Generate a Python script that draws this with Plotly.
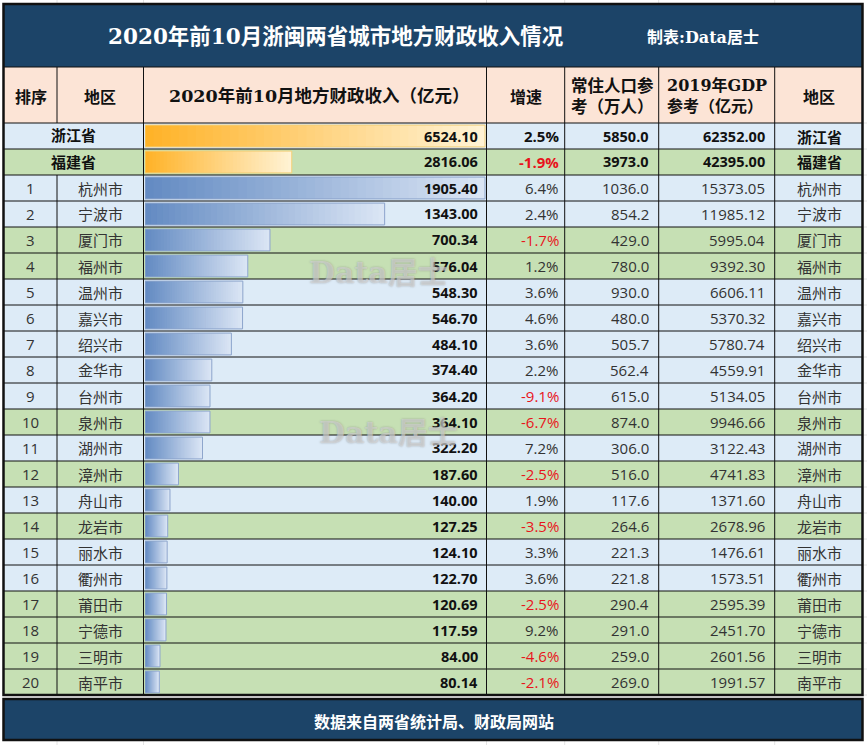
import plotly.graph_objects as go

W, H = 867, 745

# ---------- data ----------
province_names = ["浙江省", "福建省"]
province_income = [6524.10, 2816.06]
province_growth = [2.5, -1.9]
province_pop = [5850.0, 3973.0]
province_gdp = [62352.00, 42395.00]

city_names = ["杭州市", "宁波市", "厦门市", "福州市", "温州市", "嘉兴市", "绍兴市", "金华市", "台州市", "泉州市",
              "湖州市", "漳州市", "舟山市", "龙岩市", "丽水市", "衢州市", "莆田市", "宁德市", "三明市", "南平市"]
city_income = [1905.40, 1343.00, 700.34, 576.04, 548.30, 546.70, 484.10, 374.40, 364.20, 364.10,
               322.20, 187.60, 140.00, 127.25, 124.10, 122.70, 120.69, 117.59, 84.00, 80.14]
city_growth = [6.4, 2.4, -1.7, 1.2, 3.6, 4.6, 3.6, 2.2, -9.1, -6.7,
               7.2, -2.5, 1.9, -3.5, 3.3, 3.6, -2.5, 9.2, -4.6, -2.1]
city_pop = [1036.0, 854.2, 429.0, 780.0, 930.0, 480.0, 505.7, 562.4, 615.0, 874.0,
            306.0, 516.0, 117.6, 264.6, 221.3, 221.8, 290.4, 291.0, 259.0, 269.0]
city_gdp = [15373.05, 11985.12, 5995.04, 9392.30, 6606.11, 5370.32, 5780.74, 4559.91, 5134.05, 9946.66,
            3122.43, 4741.83, 1371.60, 2678.96, 1476.61, 1573.51, 2595.39, 2451.70, 2601.56, 1991.57]
fujian_cities = ["厦门市", "福州市", "泉州市", "漳州市", "龙岩市", "莆田市", "宁德市", "三明市", "南平市"]

title_text = "2020年前10月浙闽两省城市地方财政收入情况"
maker_text = "制表:Data居士"
footer_text = "数据来自两省统计局、财政局网站"
watermark_text = "Data居士"

# ---------- layout constants (pixels in the page) ----------
col_x = [3.5, 57, 143.5, 486.5, 564.7, 658.7, 774.7, 862.5]
row_top, row_h = 123, 26
title_top, head_top, table_bot = 5, 67, 695
foot_top, foot_bot = 699, 740

NAVY = "#1C4468"
HEAD = "#FCE4D6"
BLUE = "#DDEBF7"
GREEN = "#C6E0B4"
SERIF = "'DejaVu Serif','Noto Sans CJK SC',serif"
CJK = "'Noto Sans CJK SC',sans-serif"
NUM = "'Open Sans','Noto Sans CJK SC',sans-serif"


def px(x):
    return x / W


def py(y):
    return 1 - y / H


def rect(x0, y0, x1, y1, fill, line=None, lw=1):
    return dict(type="rect", xref="paper", yref="paper", layer="below",
                x0=px(x0), x1=px(x1), y0=py(y0), y1=py(y1), fillcolor=fill,
                line=dict(color=line or "rgba(0,0,0,0)", width=lw if line else 0))


def hline(y, x0, x1, color="#111111", lw=1):
    return dict(type="line", xref="paper", yref="paper", layer="below",
                x0=px(x0), x1=px(x1), y0=py(y), y1=py(y), line=dict(color=color, width=lw))


def vline(x, y0, y1, color="#111111", lw=1):
    return dict(type="line", xref="paper", yref="paper", layer="below",
                x0=px(x), x1=px(x), y0=py(y0), y1=py(y1), line=dict(color=color, width=lw))


def label(x, y, text, size, color="#111111", family=NUM, bold=False, anchor="center", align="center", shadow=None):
    t = f"<b>{text}</b>" if bold else text
    font = dict(size=size, color=color, family=family)
    if shadow:
        font["shadow"] = shadow
    return dict(xref="paper", yref="paper", x=px(x), y=py(y), text=t, showarrow=False,
                xanchor=anchor, yanchor="middle", align=align, font=font)


row_names = province_names + city_names
n_rows = len(row_names)
row_fill = [BLUE, GREEN] + [GREEN if c in fujian_cities else BLUE for c in city_names]

shapes, annotations = [], []

# faint spreadsheet gridlines outside of the table
for x in col_x[1:-1]:
    shapes.append(vline(x, 0, 4, "#E4E4E4"))
    shapes.append(vline(x, 741, H, "#E4E4E4"))
for i in range(n_rows + 1):
    shapes.append(hline(row_top + i * row_h, 863, W, "#E4E4E4"))

# title / header / footer blocks
shapes.append(rect(col_x[0], title_top, col_x[-1], head_top, NAVY))
shapes.append(rect(col_x[0], head_top, col_x[-1], row_top, HEAD))
shapes.append(rect(col_x[0], foot_top, col_x[-1], foot_bot, NAVY))

# row backgrounds and rules
for i, fill in enumerate(row_fill):
    shapes.append(rect(col_x[0], row_top + i * row_h, col_x[-1], row_top + (i + 1) * row_h, fill))
for i in range(n_rows):
    shapes.append(hline(row_top + i * row_h, col_x[0], col_x[-1]))
shapes.append(hline(head_top, col_x[0], col_x[-1]))
for j, x in enumerate(col_x[1:-1], start=1):
    if j == 1:
        shapes.append(vline(x, head_top, row_top))
        shapes.append(vline(x, row_top + 2 * row_h, table_bot))
    else:
        shapes.append(vline(x, head_top, table_bot))

# thick frames
shapes.append(dict(type="rect", xref="paper", yref="paper", layer="below",
                   x0=px(col_x[0]), x1=px(col_x[-1]), y0=py(4), y1=py(table_bot),
                   line=dict(color="#111111", width=2.5), fillcolor="rgba(0,0,0,0)"))
shapes.append(dict(type="rect", xref="paper", yref="paper", layer="below",
                   x0=px(col_x[0]), x1=px(col_x[-1]), y0=py(foot_top), y1=py(foot_bot),
                   line=dict(color="#111111", width=2.5), fillcolor="rgba(0,0,0,0)"))

# texts
annotations.append(label(336, 36, title_text, 21.5, "#FFFFFF", SERIF, True))
annotations.append(label(703, 38, maker_text, 16, "#FFFFFF", SERIF, True))
annotations.append(label(434, 721, footer_text, 16, "#FFFFFF", CJK, True))

head_y = 96
annotations.append(label(30.5, head_y, "排序", 16, family=CJK, bold=True))
annotations.append(label(100, head_y, "地区", 16, family=CJK, bold=True))
annotations.append(label(319, head_y, "2020年前10月地方财政收入（亿元）", 17.5, family=SERIF, bold=True))
annotations.append(label(525.5, head_y, "增速", 16, family=CJK, bold=True))
annotations.append(label(569, head_y, "常住人口参<br>考（万人）", 16.5, family=SERIF, bold=True, anchor="left", align="left"))
annotations.append(label(665, head_y, "2019年GDP<br>参考（亿元）", 16, family=SERIF, bold=True, anchor="left", align="left"))
annotations.append(label(819, head_y, "地区", 16, family=CJK, bold=True))

RED = "#E8141C"
all_income = province_income + city_income
all_growth = province_growth + city_growth
all_pop = province_pop + city_pop
all_gdp = province_gdp + city_gdp
for i in range(n_rows):
    y = row_top + (i + 0.5) * row_h
    prov = i < 2
    if prov:
        annotations.append(label(73, y - 1, row_names[i], 15, family=CJK, bold=True))
    else:
        annotations.append(label(30.5, y, str(i - 1), 15, "#333333"))
        annotations.append(label(100, y, row_names[i], 15, "#333333", CJK))
    annotations.append(label(480, y, f"{all_income[i]:.2f}", 14.5, "#111111", NUM, True, anchor="right"))
    g = all_growth[i]
    gc = RED if g < 0 else ("#111111" if prov else "#333333")
    annotations.append(label(561, y, f"{g:.1f}%", 15, gc, NUM, prov, anchor="right"))
    txtc = "#111111" if prov else "#333333"
    annotations.append(label(651, y, f"{all_pop[i]:.1f}", 14.5 if prov else 15, txtc, NUM, prov, anchor="right"))
    annotations.append(label(767, y, f"{all_gdp[i]:.2f}", 14.5 if prov else 15, txtc, NUM, prov, anchor="right"))
    annotations.append(label(819, y, row_names[i], 15, "#111111" if prov else "#333333", CJK, prov))

# watermarks
for wx, wy in [(378, 272), (388, 432)]:
    annotations.append(label(wx, wy, watermark_text, 30, "rgba(225,225,225,0.55)", SERIF, True,
                             shadow="0 0 2px #777777"))

# ---------- gradient data bars ----------
fig = go.Figure()


def mix(c0, c1, t):
    return "rgb(" + ",".join(str(round(a + (b - a) * t)) for a, b in zip(c0, c1)) + ")"


STEPS = 40


def gradient_bars(names, values, c0, c1, edge, xaxis):
    for s in range(STEPS):
        t = s / STEPS
        fig.add_trace(go.Bar(y=names, x=[v * (1 - t) for v in values], base=[v * t for v in values],
                             orientation="h", width=0.84, xaxis=xaxis, yaxis="y",
                             marker=dict(color=mix(c0, c1, t + 0.5 / STEPS), line=dict(width=0)),
                             showlegend=False, hoverinfo="skip"))
    fig.add_trace(go.Bar(y=names, x=values, orientation="h", width=0.84, xaxis=xaxis, yaxis="y",
                         marker=dict(color="rgba(0,0,0,0)", line=dict(color=edge, width=1)),
                         showlegend=False, hoverinfo="skip"))


gradient_bars(province_names, province_income, (255, 178, 38), (255, 243, 214), "#F2CE76", "x")
gradient_bars(city_names, city_income, (98, 138, 194), (220, 230, 245), "#8DA5CC", "x2")

bar_left, bar_right = 145, 486
bar_px = bar_right - bar_left
fig.update_layout(
    width=W, height=H, margin=dict(l=0, r=0, t=0, b=0),
    paper_bgcolor="#FFFFFF", plot_bgcolor="rgba(0,0,0,0)",
    barmode="overlay", showlegend=False,
    shapes=shapes, annotations=annotations,
    xaxis=dict(domain=[px(bar_left), px(bar_right)], range=[0, 6524.10 * bar_px / 340.0], visible=False, fixedrange=True),
    xaxis2=dict(domain=[px(bar_left), px(bar_right)], range=[0, 1905.40 * bar_px / 340.0], overlaying="x",
                visible=False, fixedrange=True),
    yaxis=dict(domain=[py(row_top + n_rows * row_h), py(row_top)], type="category",
               categoryorder="array", categoryarray=row_names, range=[n_rows - 0.5, -0.5],
               visible=False, fixedrange=True),
)

fig.write_html("out.html", config=dict(displayModeBar=False),
               post_script="document.body.style.margin='0';document.documentElement.style.overflow='hidden';")
